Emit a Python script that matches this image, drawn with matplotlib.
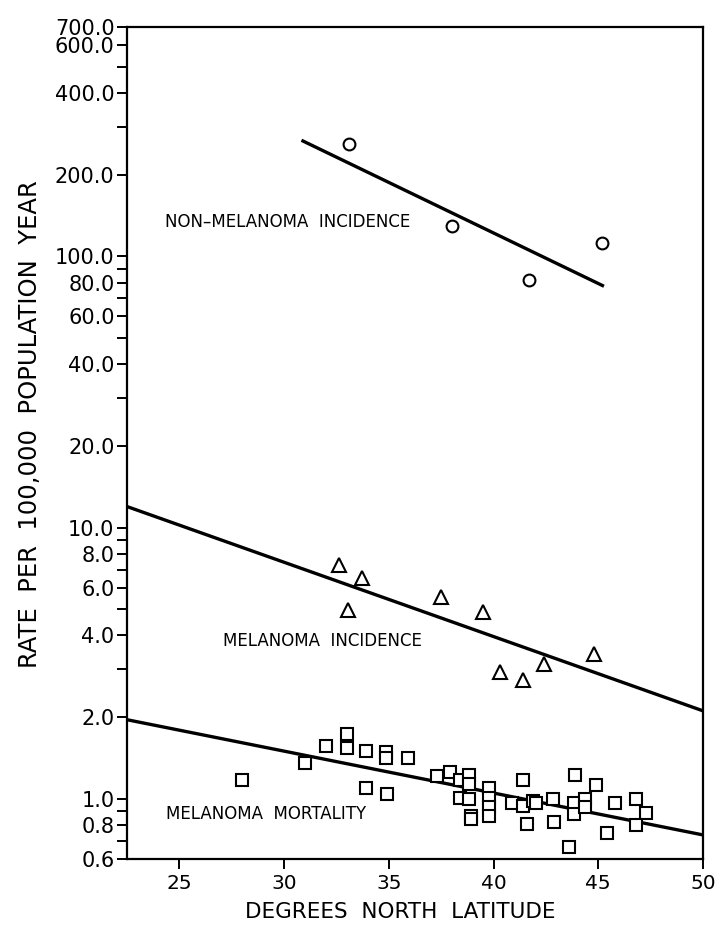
import matplotlib
matplotlib.use("Agg")
import matplotlib.pyplot as plt
import numpy as np
from matplotlib.ticker import FixedLocator, NullFormatter

# ---------------- data ----------------
# Non-melanoma skin cancer incidence (circles)
nm_lat = [33.1, 38.0, 41.7, 45.2]
nm_rate = [259, 129, 81.5, 112]
nm_fit_lat = [30.9, 45.2]
nm_fit_rate = [266, 78]

# Melanoma incidence (triangles)
mi_lat = [32.6, 33.7, 33.05, 37.5, 39.5, 40.3, 41.4, 42.4, 44.8]
mi_rate = [7.3, 6.5, 4.98, 5.56, 4.9, 2.94, 2.75, 3.15, 3.43]
mi_fit_lat = [22.5, 50.0]
mi_fit_rate = [11.95, 2.11]

# Melanoma mortality (squares)
mm_lat = [28.0, 31.0, 32.0, 33.0, 33.0, 33.9, 34.85, 34.85, 35.9, 33.9, 34.9,
          37.3, 37.9, 38.4, 38.85, 38.85, 38.4, 38.85, 38.9, 38.9,
          39.8, 39.8, 39.8, 39.8, 40.9, 41.4, 41.4, 41.9, 42.05, 41.6,
          42.85, 42.9, 43.9, 43.85, 43.85, 44.35, 44.35, 44.9, 43.6,
          45.4, 45.8, 46.8, 47.3, 46.8]
mm_rate = [1.175, 1.35, 1.56, 1.74, 1.54, 1.50, 1.49, 1.41, 1.41, 1.095, 1.04,
           1.21, 1.26, 1.175, 1.225, 1.135, 1.01, 1.0, 0.865, 0.845,
           1.095, 1.005, 0.93, 0.865, 0.965, 1.17, 0.94, 0.985, 0.965, 0.81,
           1.0, 0.82, 1.225, 0.965, 0.88, 1.0, 0.93, 1.125, 0.663,
           0.747, 0.965, 1.0, 0.888, 0.80]
mm_fit_lat = [22.5, 50.0]
mm_fit_rate = [1.957, 0.736]

x_ticks = [25, 30, 35, 40, 45, 50]
y_major = [0.6, 0.8, 1.0, 2.0, 4.0, 6.0, 8.0, 10.0, 20.0, 40.0, 60.0, 80.0,
           100.0, 200.0, 400.0, 600.0, 700.0]
y_minor = [0.7, 0.9, 3, 5, 7, 9, 30, 50, 70, 90, 300, 500]

labels = {
    "nm": "NON\u2013MELANOMA  INCIDENCE",
    "mi": "MELANOMA  INCIDENCE",
    "mm": "MELANOMA  MORTALITY",
}

# ---------------- figure ----------------
plt.rcParams['font.family'] = ['DejaVu Sans']
fig = plt.figure(figsize=(7.19, 9.38), dpi=100)
ax = fig.add_axes([127 / 719, 79 / 938, 576 / 719, 832 / 938])

ax.set_yscale('log')
ax.set_xlim(22.5, 50)
ax.set_ylim(0.6, 700)

mk = dict(linestyle='none', markerfacecolor='white', markeredgecolor='black',
          markeredgewidth=1.5, zorder=3)
ax.plot(nm_lat, nm_rate, marker='o', markersize=8.5, **mk)
ax.plot(mi_lat, mi_rate, marker='^', markersize=9.5, **mk)
ax.plot(mm_lat, mm_rate, marker='s', markersize=8, **mk)

ax.plot(nm_fit_lat, nm_fit_rate, color='black', lw=2.4, zorder=2)
ax.plot(mi_fit_lat, mi_fit_rate, color='black', lw=2.4, zorder=2)
ax.plot(mm_fit_lat, mm_fit_rate, color='black', lw=2.4, zorder=2)

ax.text(24.3, 134, labels["nm"], fontsize=12, va='center', ha='left')
ax.text(27.1, 3.83, labels["mi"], fontsize=12, va='center', ha='left')
ax.text(24.35, 0.88, labels["mm"], fontsize=12, va='center', ha='left')

ax.xaxis.set_major_locator(FixedLocator(x_ticks))
ax.set_xticklabels([str(v) for v in x_ticks])
ax.yaxis.set_major_locator(FixedLocator(y_major))
ax.yaxis.set_minor_locator(FixedLocator(y_minor))
ax.set_yticklabels([f"{v:.1f}" for v in y_major])
ax.yaxis.set_minor_formatter(NullFormatter())
ax.xaxis.set_minor_locator(FixedLocator([]))

ax.tick_params(axis='both', which='both', direction='out', length=7, width=1.4,
               pad=2)
ax.tick_params(axis='x', labelsize=14.5, pad=4)
ax.tick_params(axis='y', labelsize=15)
for s in ax.spines.values():
    s.set_linewidth(1.6)

fig.text(30 / 719, 1 - 424 / 938, "RATE  PER  100,000  POPULATION  YEAR",
         rotation=90, ha='center', va='center', fontsize=17.5)
fig.text(400 / 719, 1 - 912 / 938, "DEGREES  NORTH  LATITUDE",
         ha='center', va='center', fontsize=15.5)

fig.savefig("out.png", dpi=100)
